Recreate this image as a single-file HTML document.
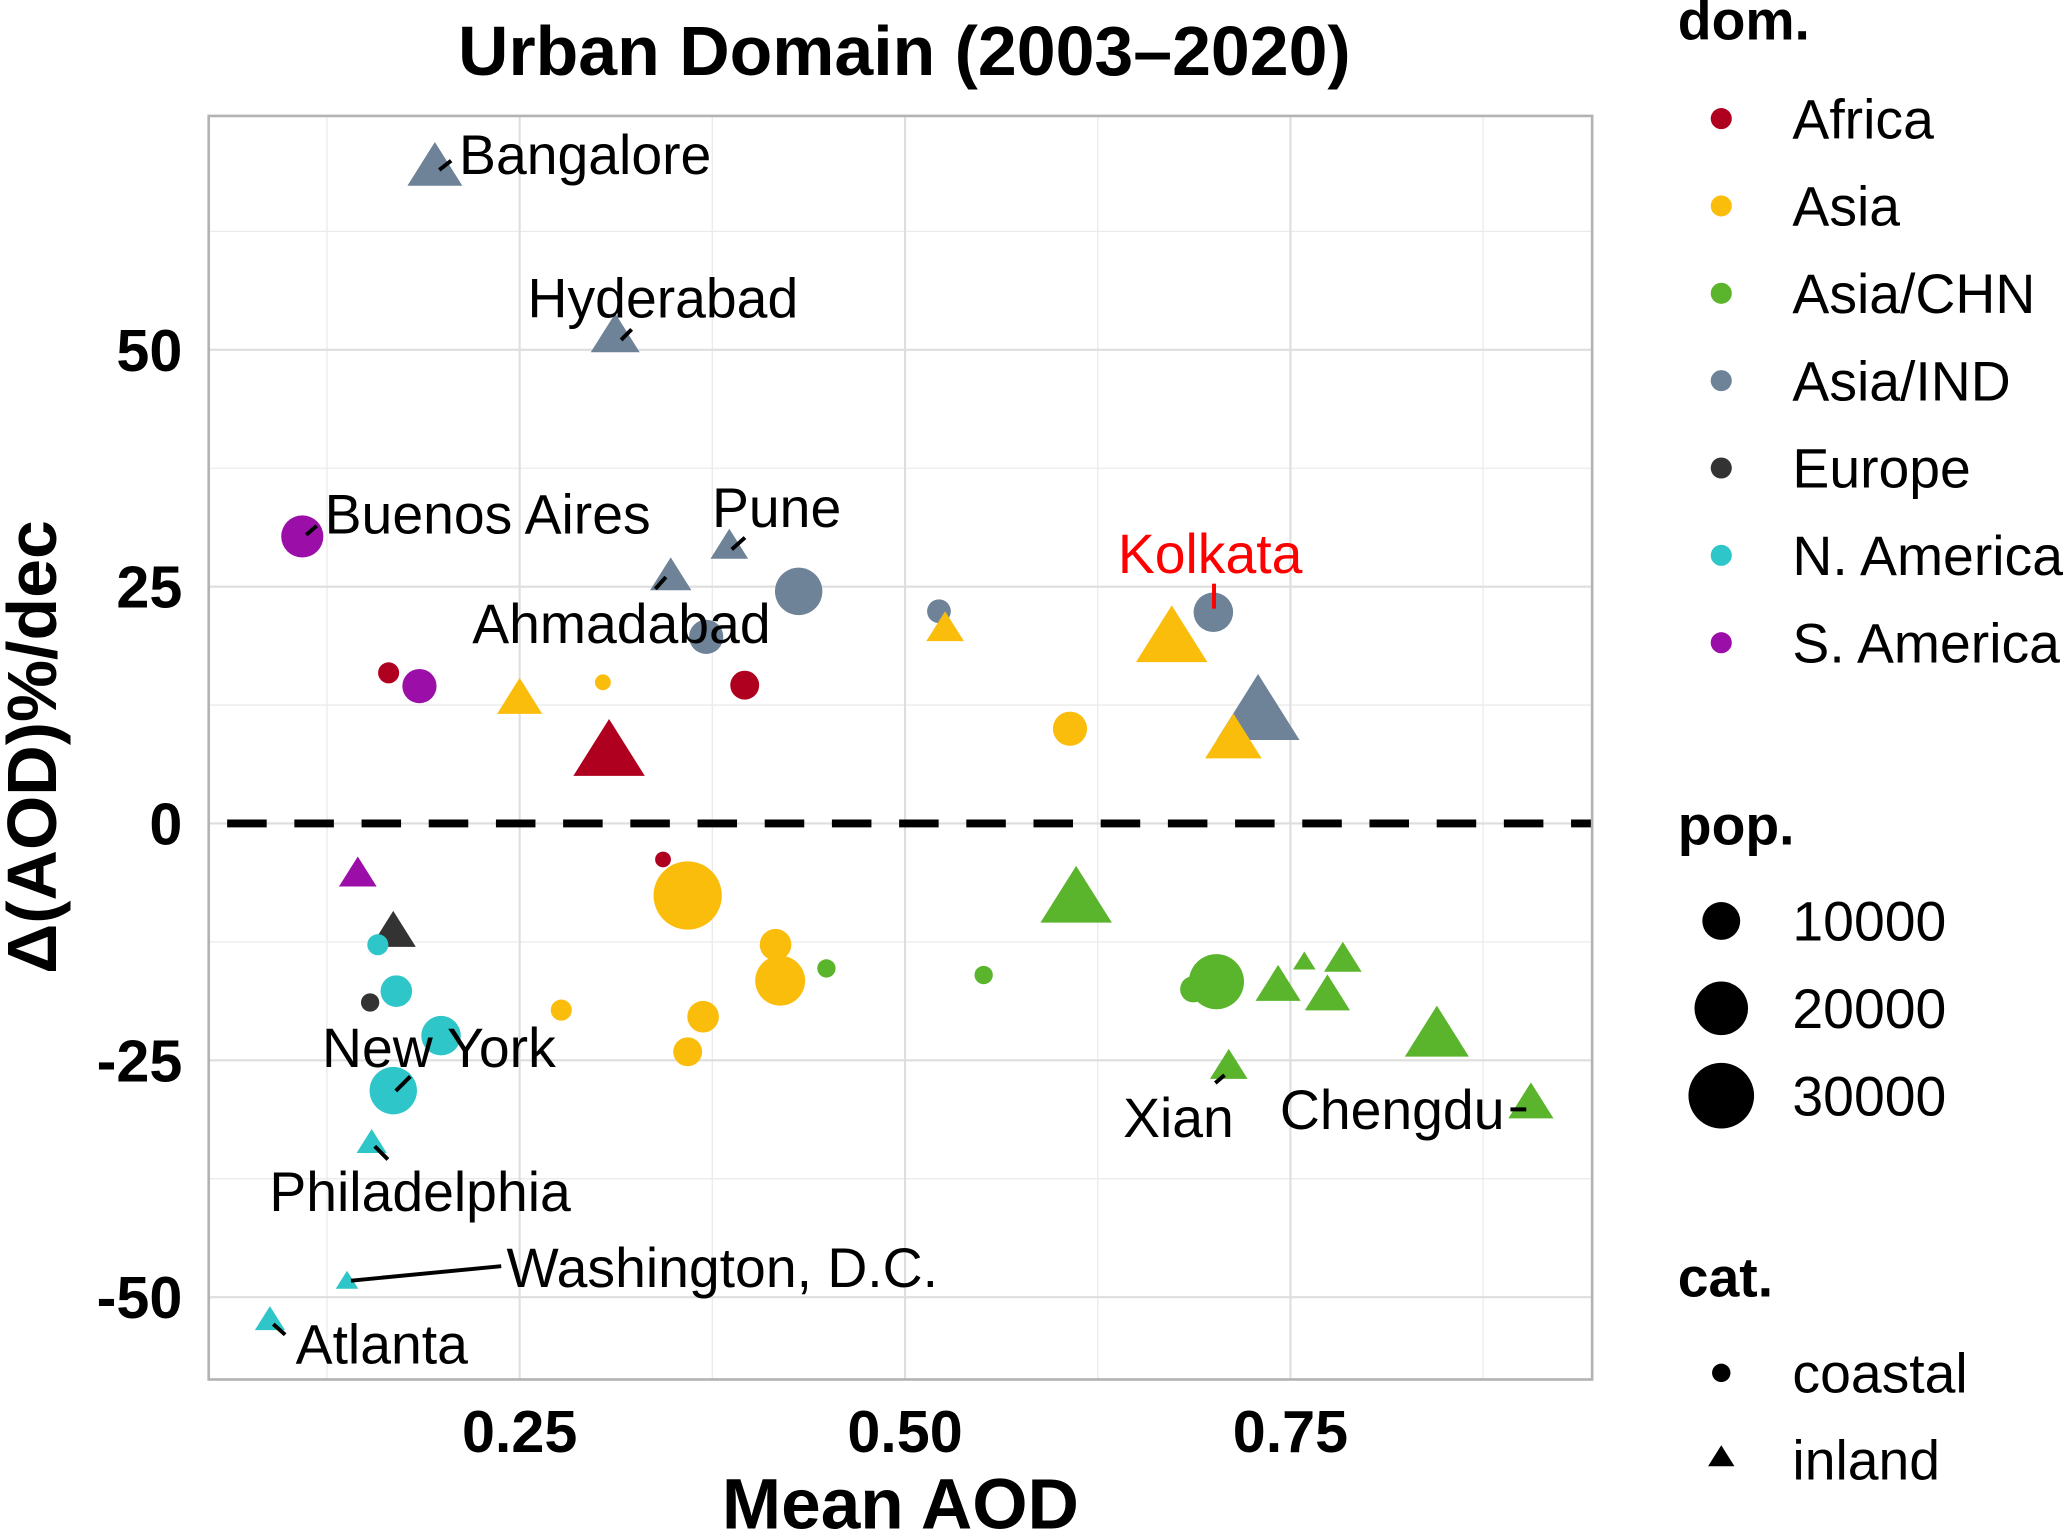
<!DOCTYPE html>
<html><head><meta charset="utf-8"><style>
html,body{margin:0;padding:0;background:#fff;}
svg{display:block;font-family:"Liberation Sans",Arial,sans-serif;}
</style></head><body>
<svg id="chart" width="2067" height="1531" viewBox="0 0 1568 1162" xmlns="http://www.w3.org/2000/svg">
<rect x="0" y="0" width="1568" height="1162" fill="#fff"/>
<text x="686" y="57" font-size="53" font-weight="bold" text-anchor="middle">Urban Domain (2003–2020)</text>
<g id="grid"></g>
<g id="points"></g>
<g id="labels"></g>
<rect x="158" y="88" width="1050" height="959" fill="none" stroke="#b3b3b3" stroke-width="2"/>
<text x="683" y="1160" font-size="54" font-weight="bold" text-anchor="middle">Mean AOD</text>
<text transform="translate(42,567) rotate(-90)" font-size="53" font-weight="bold" text-anchor="middle">Δ(AOD)%/dec</text>
<g id="legend"></g>
</svg>
<script>
const xTicks=[0.25,0.5,0.75];
const xTickLabels=["0.25","0.50","0.75"];
const xMinor=[0.125,0.375,0.625,0.875];
const yTicks=[-50,-25,0,25,50];
const yTickLabels=["-50","-25","0","25","50"];
const yMinor=[-37.5,-12.5,12.5,37.5,62.5];
const domains=["Africa","Asia","Asia/CHN","Asia/IND","Europe","N. America","S. America"];
const domainColors=["#b0001f","#fbbd0b","#5ab42c","#6e8298","#333333","#2ec6c8","#9b0ea8"];
const popTicks=[10000,20000,30000];
const meanAOD=[0.195,0.312,0.109,0.386,0.348,0.431,0.371,0.522,0.526,0.700,0.673,0.729,0.713,0.607,0.165,0.185,0.25,0.304,0.308,0.396,0.343,0.359,0.145,0.168,0.158,0.153,0.170,0.199,0.168,0.154,0.138,0.088,0.277,0.359,0.369,0.416,0.419,0.449,0.551,0.611,0.702,0.687,0.742,0.759,0.784,0.774,0.845,0.710,0.906];
const dAOD=[69.3,51.5,30.3,29.3,26.1,24.5,19.7,22.4,20.6,22.3,19.6,11.8,8.9,10.0,15.9,14.5,13.2,14.9,7.6,14.6,-3.8,-7.6,-5.3,-11.4,-12.8,-18.9,-17.7,-22.4,-28.2,-33.7,-48.3,-52.4,-19.7,-24.1,-20.4,-12.8,-16.6,-15.3,-16.0,-7.9,-16.7,-17.5,-17.1,-14.6,-14.3,-18.1,-22.3,-25.6,-29.5];
const population=[13600,10800,16400,6400,7700,20700,10800,5200,6400,14400,23000,31000,14400,10800,4100,10800,9200,2300,23000,7700,2300,43000,6400,9200,4100,3100,9200,14400,20700,4100,2300,4100,4100,7700,9200,9200,23000,3100,3100,23000,28000,6400,9200,2300,6400,9200,18500,6400,9200];
const domainIdx=[3,3,6,3,3,3,3,3,1,3,1,3,1,1,0,6,1,1,0,0,0,1,6,4,5,4,5,5,5,5,5,5,1,1,1,1,1,2,2,2,2,2,2,2,2,2,2,2,2];
const inland=[1,1,0,1,1,0,0,0,1,0,1,1,1,0,0,0,1,0,1,0,0,0,1,1,0,0,0,0,0,1,1,1,0,0,0,0,0,0,0,1,0,0,1,1,1,1,1,1,1];

const NS="http://www.w3.org/2000/svg";
const X0=158,X1=1208,Y0=88,Y1=1047;
const xs=v=>394+(v-0.25)*1170;
const ys=v=>625-v*7.19;
const rs=p=>Math.sqrt(p)*0.125;
function mk(tag,attrs,parent,txt){const e=document.createElementNS(NS,tag);for(const k in attrs)e.setAttribute(k,attrs[k]);if(txt!==undefined)e.textContent=txt;parent.appendChild(e);return e;}
const grid=document.getElementById('grid');
xMinor.forEach(v=>{const l=mk('line',{x1:xs(v),x2:xs(v),y1:Y0,y2:Y1,stroke:'#ebebeb','stroke-width':1},grid);

});
yMinor.forEach(v=>{const l=mk('line',{x1:X0,x2:X1,y1:ys(v),y2:ys(v),stroke:'#ebebeb','stroke-width':1},grid);

});
xTicks.forEach((v,i)=>{const l=mk('line',{x1:xs(v),x2:xs(v),y1:Y0,y2:Y1,stroke:'#dedede','stroke-width':1.6},grid);


const t=mk('text',{x:xs(v),y:1102,'font-size':45,'font-weight':'bold','text-anchor':'middle'},grid,xTickLabels[i]);

});
yTicks.forEach((v,i)=>{const l=mk('line',{x1:X0,x2:X1,y1:ys(v),y2:ys(v),stroke:'#dedede','stroke-width':1.6},grid);


const t=mk('text',{x:138,y:ys(v)+16,'font-size':45,'font-weight':'bold','text-anchor':'end'},grid,yTickLabels[i]);

});
const zl=mk('line',{x1:172,x2:1208,y1:ys(0),y2:ys(0),stroke:'#000','stroke-width':6,'stroke-dasharray':'30 21'},grid);



function tri(cx,cy,r){const h=r*1.3;return `${cx},${cy-h} ${cx-h*1.1},${cy+h*0.75} ${cx+h*1.1},${cy+h*0.75}`;}
const pts=document.getElementById('points');
meanAOD.forEach((v,i)=>{const cx=xs(v),cy=ys(dAOD[i]),r=rs(population[i]),c=domainColors[domainIdx[i]];let e;
if(inland[i]) e=mk('polygon',{points:tri(cx,cy,r),fill:c},pts); else e=mk('circle',{cx:cx,cy:cy,r:r,fill:c},pts);

});

const lab=document.getElementById('labels');
const labels=[["Bangalore",348,132,0,[[333,129],[342,122]]],["Hyderabad",400,241,0,[[471,258],[479,250]]],["Buenos Aires",246,405,0,[[232,406],[240,399]]],["Pune",540,400,0,[[555,417],[565,408]]],["Ahmadabad",358,488,0,[[497,447],[505,438]]],["Kolkata",848,435,1,[[921,443],[921,462]]],["New York",244,810,0,[[300,828],[311,817]]],["Philadelphia",204,919,0,[[284,870],[294,880]]],["Washington, D.C.",384,977,0,[[266,972],[380,961]]],["Atlanta",224,1035,0,[[207,1005],[216,1013]]],["Xian",852,863,0,[[922,822],[929,816]]],["Chengdu",971,857,0,[[1146,842],[1158,842]]]];
labels.forEach(L=>{const t=mk('text',{x:L[1],y:L[2],'font-size':42,fill:L[3]?'#ff0000':'#000'},lab,L[0]);


const s=mk('line',{x1:L[4][0][0],y1:L[4][0][1],x2:L[4][1][0],y2:L[4][1][1],stroke:L[3]?'#ff0000':'#000','stroke-width':3},lab);

});

const lg=document.getElementById('legend');
let t=mk('text',{x:1273,y:30,'font-size':42,'font-weight':'bold'},lg,'dom.');


domains.forEach((d,i)=>{const y=90+i*66.3;
const c=mk('circle',{cx:1306,cy:y,r:8,fill:domainColors[i]},lg);


const tt=mk('text',{x:1360,y:y+15,'font-size':42},lg,d);

});
t=mk('text',{x:1273,y:641,'font-size':42,'font-weight':'bold'},lg,'pop.');


popTicks.forEach((p,i)=>{const y=699+i*66.3;
const c=mk('circle',{cx:1306,cy:y,r:rs(p)*1.15,fill:'#000'},lg);


const tt=mk('text',{x:1360,y:y+15,'font-size':42},lg,String(p));

});
t=mk('text',{x:1273,y:984,'font-size':42,'font-weight':'bold'},lg,'cat.');


let c=mk('circle',{cx:1306,cy:1042,r:7,fill:'#000'},lg);


t=mk('text',{x:1360,y:1057,'font-size':42},lg,'coastal');


c=mk('polygon',{points:tri(1306,1106,7),fill:'#000'},lg);


t=mk('text',{x:1360,y:1123,'font-size':42},lg,'inland');


</script>
</body></html>
